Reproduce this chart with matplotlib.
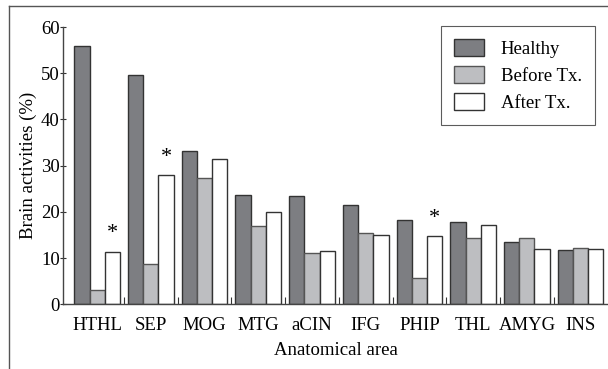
import numpy as np
import matplotlib
matplotlib.use("Agg")
import matplotlib.pyplot as plt
from matplotlib.lines import Line2D

areas   = ["HTHL", "SEP", "MOG", "MTG", "aCIN", "IFG", "PHIP", "THL", "AMYG", "INS"]
healthy = [55.8, 49.7, 33.2, 23.7, 23.4, 21.5, 18.3, 17.8, 13.5, 11.7]
before  = [3.1, 8.7, 27.4, 16.9, 11.2, 15.4, 5.8, 14.4, 14.4, 12.2]
after   = [11.4, 28.0, 31.5, 20.0, 11.5, 14.9, 14.7, 17.2, 12.0, 12.0]
starred = ["HTHL", "SEP", "PHIP"]   # significant after treatment
yticks  = [0, 10, 20, 30, 40, 50, 60]

plt.rcParams["font.family"] = ["Liberation Serif", "DejaVu Serif"]
plt.rcParams["font.size"] = 13.5

fig = plt.figure(figsize=(6.08, 3.69), dpi=100)
ax = fig.add_axes([0.1041, 0.1753, 0.8959, 0.7515])

x = np.arange(len(areas)) + 0.5
w = 0.283
ax.bar(x - w, healthy, w, color="#7d7e82", edgecolor="#333333", linewidth=1.0, label="Healthy")
ax.bar(x, before, w, color="#bdbec1", edgecolor="#555555", linewidth=1.0, label="Before Tx.")
ax.bar(x + w, after, w, color="white", edgecolor="#333333", linewidth=1.0, label="After Tx.")

for name in starred:
    i = areas.index(name)
    ax.text(x[i] + w, after[i] + 1.8, "*", ha="center", va="bottom", fontsize=16)

ax.set_xlim(-0.13, 10.01)
ax.set_ylim(0, 60)
ax.set_yticks(yticks)
ax.set_xticks(x)
ax.set_xticklabels(areas, fontsize=13.5)
ax.tick_params(axis="x", length=0, pad=9)
ax.set_xticks(np.arange(1, 10), minor=True)
ax.tick_params(axis="x", which="minor", direction="in", length=5, width=0.8, color="#333333")
ax.tick_params(axis="y", direction="inout", length=5, width=0.8, color="#333333",
               labelsize=13.5, pad=0)

for s in ["top", "right"]:
    ax.spines[s].set_visible(False)
for s in ["left", "bottom"]:
    ax.spines[s].set_color("#444444")
    ax.spines[s].set_linewidth(1.0)

ax.set_ylabel("Brain activities (%)", fontsize=13.5, labelpad=3)
ax.set_xlabel("Anatomical area", fontsize=13.5, labelpad=6)

leg = ax.legend(loc="upper right", bbox_to_anchor=(0.976, 1.005), fancybox=False,
                edgecolor="#333333", fontsize=13.5, handlelength=1.6, handleheight=1.0,
                handletextpad=0.9, labelspacing=0.45, borderpad=0.7, borderaxespad=0)
leg.get_frame().set_linewidth(0.8)

# outer frame (left and top edges only)
fig.add_artist(Line2D([9 / 608, 9 / 608], [0, 1 - 6 / 369], transform=fig.transFigure,
                      color="#555555", linewidth=1.0))
fig.add_artist(Line2D([9 / 608, 1], [1 - 6 / 369, 1 - 6 / 369], transform=fig.transFigure,
                      color="#555555", linewidth=1.0))

fig.savefig("out.png", dpi=100)
